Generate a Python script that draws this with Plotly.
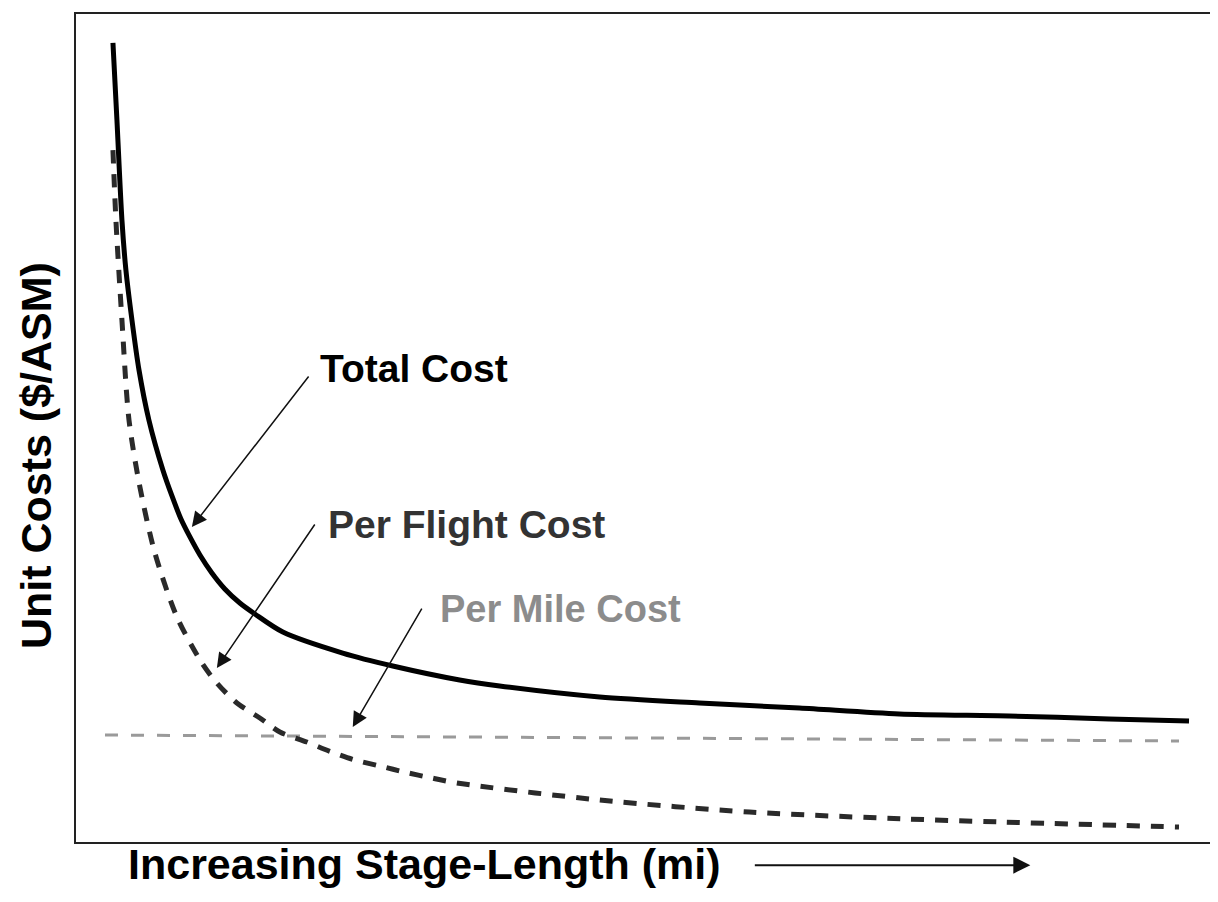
import plotly.graph_objects as go

# ---- data (arbitrary units: x = stage length, y = unit cost) ----
total_x = [3.25, 3.60, 4.04, 4.39, 4.92, 5.54, 6.41, 7.64, 8.44, 9.23, 10.02, 10.90, 11.95, 13.09,
           14.41, 15.73, 18.19, 23.46, 27.86, 33.74, 37.26, 46.05, 54.83, 63.62, 72.41, 82.07, 90.86, 97.89]
total_y = [96.50, 87.20, 75.12, 69.08, 63.04, 57.00, 50.97, 44.93, 41.79, 39.01, 36.84, 34.66, 32.49, 30.56,
           28.86, 27.54, 25.36, 22.82, 21.26, 19.57, 18.84, 17.51, 16.79, 16.18, 15.46, 15.22, 14.86, 14.61]

flight_x = [3.25, 3.51, 4.04, 4.66, 5.62, 6.94, 8.88, 11.07, 12.39, 14.15, 16.17, 17.93, 20.30,
            22.32, 24.34, 26.71, 29.09, 31.11, 33.48, 46.05, 59.23, 73.02, 81.20, 97.01]
flight_y = [83.57, 75.12, 63.04, 50.97, 42.87, 34.90, 27.17, 21.62, 19.20, 16.79, 14.98, 13.29, 12.08,
            10.95, 9.98, 9.18, 8.38, 7.78, 7.13, 5.07, 3.62, 2.78, 2.42, 1.81]

mile_x = [2.55, 97.01]
mile_y = [12.92, 12.20]

series_names = ["Total Cost", "Per Flight Cost", "Per Mile Cost"]
x_title = "Increasing Stage-Length (mi)"
y_title = "Unit Costs ($/ASM)"

fig = go.Figure()
fig.add_trace(go.Scatter(x=mile_x, y=mile_y, mode="lines", name=series_names[2],
                         line=dict(color="#9a9a9a", width=3, dash="13px,13px")))
fig.add_trace(go.Scatter(x=flight_x, y=flight_y, mode="lines", name=series_names[1],
                         line=dict(color="#2a2a2a", width=5, dash="13px,11px", shape="spline", smoothing=0.8)))
fig.add_trace(go.Scatter(x=total_x, y=total_y, mode="lines", name=series_names[0],
                         line=dict(color="#000000", width=5, shape="spline", smoothing=0.8)))

ax_common = dict(showgrid=False, zeroline=False, showticklabels=False, ticks="",
                 showline=True, mirror=True, linecolor="#222222", linewidth=2)
fig.update_xaxes(range=[0, 100], **ax_common)
fig.update_yaxes(range=[0, 100], **ax_common)

bold = "Liberation Sans, Arial, sans-serif"

annotations = [
    # labels
    dict(x=21.27, y=57.13, xref="x", yref="y", text=series_names[0], showarrow=False,
         xanchor="left", yanchor="middle", font=dict(family=bold, size=39, color="#000", weight="bold")),
    dict(x=21.95, y=38.4, xref="x", yref="y", text=series_names[1], showarrow=False,
         xanchor="left", yanchor="middle", font=dict(family=bold, size=39, color="#333", weight="bold")),
    dict(x=31.81, y=28.2, xref="x", yref="y", text=series_names[2], showarrow=False,
         xanchor="left", yanchor="middle", font=dict(family=bold, size=38, color="#8c8c8c", weight="bold")),
    # pointer arrows
    dict(x=10.19, y=38.04, ax=20.56, ay=56.40, xref="x", yref="y", axref="x", ayref="y", text="",
         showarrow=True, arrowhead=2, arrowsize=2, arrowwidth=1.5, arrowcolor="#111"),
    dict(x=12.39, y=21.01, ax=21.09, ay=38.53, xref="x", yref="y", axref="x", ayref="y", text="",
         showarrow=True, arrowhead=2, arrowsize=2, arrowwidth=1.5, arrowcolor="#111"),
    dict(x=24.34, y=13.89, ax=30.49, ay=28.38, xref="x", yref="y", axref="x", ayref="y", text="",
         showarrow=True, arrowhead=2, arrowsize=2, arrowwidth=1.5, arrowcolor="#111"),
    # axis titles
    dict(x=-0.0345, y=0.467, xref="paper", yref="paper", text=y_title, showarrow=False, textangle=-90,
         xanchor="center", yanchor="middle", font=dict(family=bold, size=43, color="#000", weight="bold")),
    dict(x=0.3064, y=-0.026, xref="paper", yref="paper", text=x_title, showarrow=False,
         xanchor="center", yanchor="middle", font=dict(family=bold, size=43, color="#000", weight="bold")),
    # arrow beside x title
    dict(x=(1032 - 76) / 1139, y=-0.028, xref="paper", yref="paper", ax=-277, ay=0, text="",
         showarrow=True, arrowhead=2, arrowsize=1.7, arrowwidth=2, arrowcolor="#111"),
]

fig.update_layout(
    width=1210, height=886,
    margin=dict(l=68, r=3, t=6, b=52),
    paper_bgcolor="white", plot_bgcolor="white",
    showlegend=False,
    annotations=annotations,
)

fig.write_html("out.html")
